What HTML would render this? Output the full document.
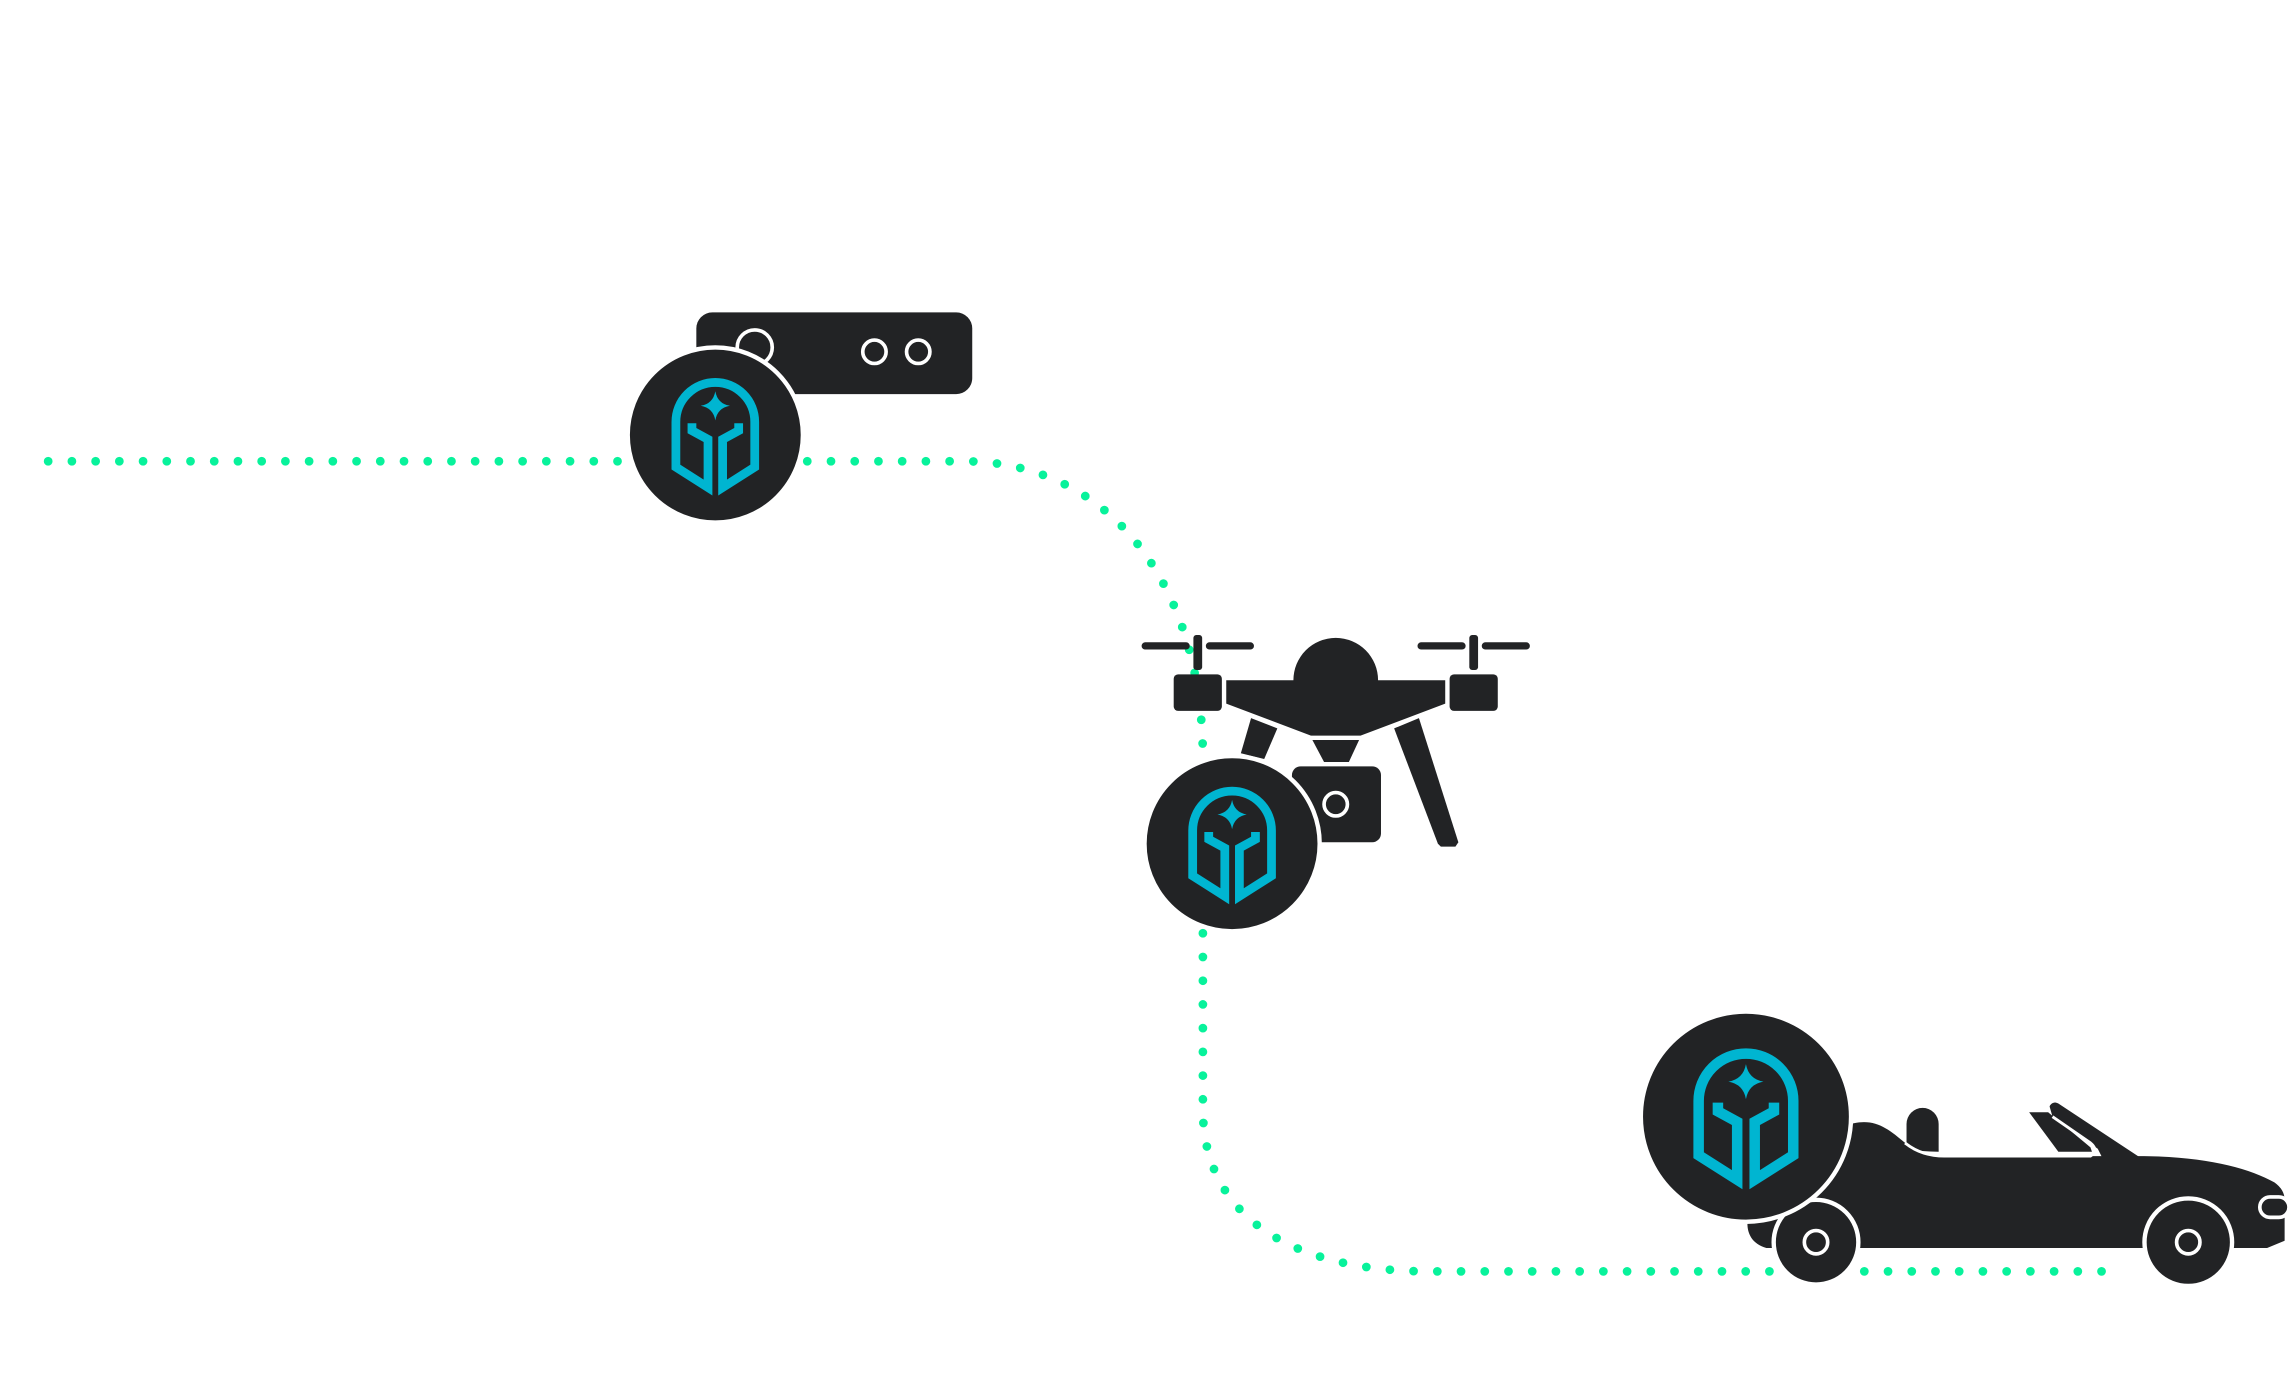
<!DOCTYPE html>
<html><head><meta charset="utf-8"><style>html,body{margin:0;padding:0;background:#fff;overflow:hidden}svg{display:block}</style></head>
<body>
<svg width="2289" height="1394" viewBox="0 0 1568 955" preserveAspectRatio="none" xmlns="http://www.w3.org/2000/svg">
<defs>
<g id="helm">
<path d="M-16,-8 L-16,-3 L-5,3 L-5,36 L-27,22 L-27,-9 A27,27 0 0 1 27,-9 L27,22 L5,36 L5,3 L16,-3 L16,-8" fill="none" stroke="#00b5d1" stroke-width="6" stroke-linejoin="miter"/>
<path d="M0,-30 Q1.5,-21.5 10,-20 Q1.5,-18.5 0,-10 Q-1.5,-18.5 -10,-20 Q-1.5,-21.5 0,-30Z" fill="#00b5d1"/>
</g>
</defs>
<path d="M33,316 L660,316 C760,316 824,400 824,520 L824,760 C824,830 880,871 980,871 L1445,871" fill="none" stroke="#08f29b" stroke-width="6" stroke-linecap="round" stroke-dasharray="0 16.25"/>

<rect x="477" y="214" width="189" height="56" rx="11" fill="#222325"/>
<circle cx="517" cy="238" r="12" fill="#222325" stroke="#fff" stroke-width="2.5"/>
<circle cx="599" cy="241" r="8" fill="#222325" stroke="#fff" stroke-width="2.5"/>
<circle cx="629" cy="241" r="8" fill="#222325" stroke="#fff" stroke-width="2.5"/>
<circle cx="490" cy="298" r="60" fill="#222325" stroke="#fff" stroke-width="3"/>
<use href="#helm" transform="translate(490,298)"/>

<g fill="#222325">
<rect x="782" y="440" width="33" height="5" rx="2.5"/><rect x="826" y="440" width="33" height="5" rx="2.5"/>
<rect x="817.5" y="435" width="6" height="24" rx="2"/>
<rect x="804" y="462" width="33" height="25" rx="3"/>
<rect x="971" y="440" width="33" height="5" rx="2.5"/><rect x="1015" y="440" width="33" height="5" rx="2.5"/>
<rect x="1006.5" y="435" width="6" height="24" rx="2"/>
<rect x="993" y="462" width="33" height="25" rx="3"/>
<path d="M886,466 A29,29 0 0 1 944,466 L990,466 L990,482 L932,504 L898,504 L840,482 L840,466 Z"/>
<path d="M899,507 L931,507 L924,522 L907,522Z"/>
<path d="M857,492 L875,499 L866,520 L850,516Z"/>
<path d="M955,499 L972,492 L999,577 L997,580 L987,580 L985,578Z"/>
<rect x="885" y="525" width="61" height="52" rx="6"/>
</g>
<circle cx="915" cy="551" r="8" fill="#222325" stroke="#fff" stroke-width="2.5"/>
<circle cx="844" cy="578" r="60" fill="#222325" stroke="#fff" stroke-width="3"/>
<use href="#helm" transform="translate(844,578)"/>

<g fill="#222325">
<path d="M1262,772 C1282,764 1292,772 1305,783 Q1316,792 1332,792 L1465,792 C1510,792 1540,800 1558,810 Q1565,815 1565,822 L1565,850 L1553,855 L1210,855 C1200,852 1197,845 1197,838 Z"/>
<path d="M1306,787 L1306,770 A11,11 0 0 1 1328,770 L1328,789 Q1316,789 1306,787 Z"/>
<path d="M1390,762 L1403,762 L1432,786 L1433,789 L1410,789 Z"/>
<path d="M1404,758 A4,4 0 0 1 1410,756 L1466,793 L1440,793 L1437,787 L1406,765 Z"/>
</g>
<path d="M1305,783 Q1316,792 1332,792 L1432,792 Q1438,788 1432,783 L1406,765" fill="none" stroke="#fff" stroke-width="2"/>
<rect x="1548" y="820" width="20" height="14" rx="7" fill="#222325" stroke="#fff" stroke-width="2.5"/>
<circle cx="1244" cy="851" r="29" fill="#222325" stroke="#fff" stroke-width="3"/>
<circle cx="1244" cy="851" r="8" fill="#222325" stroke="#fff" stroke-width="2.5"/>
<circle cx="1499" cy="851" r="30" fill="#222325" stroke="#fff" stroke-width="3"/>
<circle cx="1499" cy="851" r="8" fill="#222325" stroke="#fff" stroke-width="2.5"/>
<circle cx="1196" cy="765" r="72" fill="#222325" stroke="#fff" stroke-width="3"/>
<use href="#helm" transform="translate(1196,765) scale(1.2)"/>
</svg>
</body></html>
